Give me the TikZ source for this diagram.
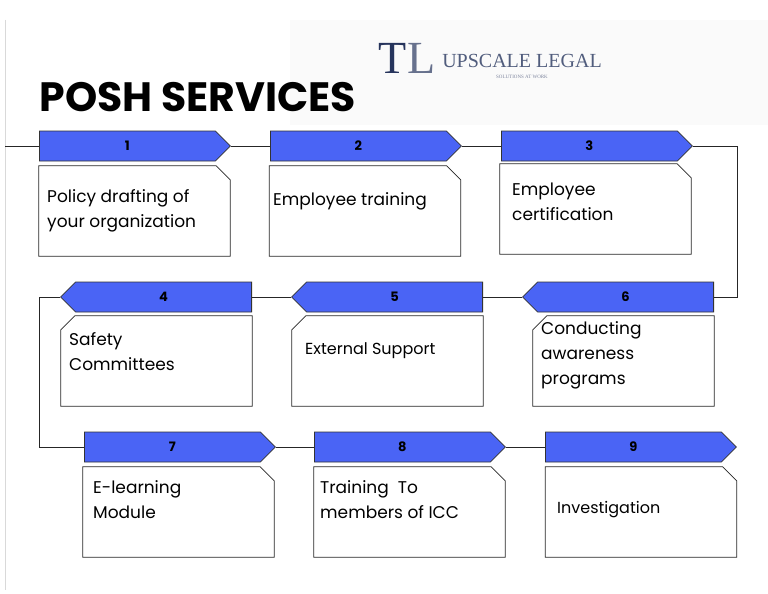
\documentclass[tikz,border=0pt]{standalone}
\usepackage{fontspec}
\setmainfont{Poppins}
\newfontfamily\logofont{Liberation Serif}
\usetikzlibrary{shapes.symbols}
\definecolor{bannerblue}{RGB}{74,100,245}
\definecolor{navy}{RGB}{38,52,92}
\tikzset{
  banner/.style={draw=black!80,thick,fill=bannerblue,shape=signal,signal pointer angle=90,
    minimum width=191pt,minimum height=30pt,inner sep=0pt,font=\fontsize{13}{13}\selectfont\bfseries},
  card/.style={rectangle,minimum width=191pt,minimum height=90pt,inner sep=0pt},
  edge/.style={draw=black!85,thick},
  txt/.style={anchor=west,align=left,inner sep=0pt,font=\fontsize{17}{25}\selectfont},
  link/.style={black!85,thick}
}
% card outline with the top right or top left corner cut
\newcommand\cutne[1]{\draw[edge] (#1.north west) -- ([xshift=-14pt]#1.north east)
  -- ([yshift=-14pt]#1.north east) -- (#1.south east) -- (#1.south west) -- cycle;}
\newcommand\cutnw[1]{\draw[edge] ([xshift=14pt]#1.north west) -- (#1.north east)
  -- (#1.south east) -- (#1.south west) -- ([yshift=-14pt]#1.north west) -- cycle;}
\begin{document}
\begin{tikzpicture}[x=1pt,y=-1pt]
  \useasboundingbox (0,0) rectangle (768,594);
  \fill[black!2] (290,20) rectangle (768,125);
  \draw[black!15] (5,20) -- (5,590);

  % logo
  \node[inner sep=0pt,text=navy,font=\logofont\fontsize{46}{46}\selectfont] (lgT) at (393,58) {T};
  \node[inner sep=0pt,text=navy!70,font=\logofont\fontsize{46}{46}\selectfont,anchor=west] (lgL) at (lgT.east) {L};
  \node[anchor=west,text=navy!80,font=\logofont\fontsize{20}{20}\selectfont] (lgname) at ([xshift=3pt,yshift=-3pt]lgL.east) {UPSCALE LEGAL};
  \node[anchor=north,text=navy!60,font=\logofont\fontsize{5}{5}\selectfont] (lgsub) at (lgname.south) {SOLUTIONS AT WORK};

  \node[anchor=west,font=\fontsize{41}{41}\selectfont\bfseries] (title) at (36,97) {POSH SERVICES};

  % banners
  \node[banner,signal to=east,anchor=west] (b1) at (39,146) {1};
  \node[banner,signal to=east,anchor=west] (b2) at (270,146) {2};
  \node[banner,signal to=east,anchor=west] (b3) at (501,146) {3};
  \node[banner,signal to=west,anchor=east] (b4) at (252,297) {4};
  \node[banner,signal to=west,anchor=east] (b5) at (483,297) {5};
  \node[banner,signal to=west,anchor=east] (b6) at (714,297) {6};
  \node[banner,signal to=east,anchor=west] (b7) at (84,447) {7};
  \node[banner,signal to=east,anchor=west] (b8) at (314,447) {8};
  \node[banner,signal to=east,anchor=west] (b9) at (545,447) {9};

  % cards
  \node[card] (c1) at (134.5,211) {};
  \node[card] (c2) at (365,211) {};
  \node[card] (c3) at (595.5,209) {};
  \node[card] (c4) at (156.5,361) {};
  \node[card] (c5) at (387.5,361) {};
  \node[card,minimum width=181pt] (c6) at (623.5,361) {};
  \node[card] (c7) at (178.5,512) {};
  \node[card] (c8) at (409.5,512) {};
  \node[card] (c9) at (641,512) {};
  \cutne{c1} \cutne{c2} \cutne{c3}
  \cutnw{c4} \cutnw{c5} \cutnw{c6}
  \cutne{c7} \cutne{c8} \cutne{c9}

  \node[txt] (t1) at (47,211) {Policy drafting of\\your organization};
  \node[txt] (t2) at (273,201) {Employee training};
  \node[txt] (t3) at (512,202) {Employee\\certification};
  \node[txt] (t4) at (69,352) {Safety\\Committees};
  \node[txt,font=\fontsize{16}{25}\selectfont] (t5) at (305,351) {External Support};
  \node[txt] (t6) at (541,355) {Conducting\\awareness\\programs};
  \node[txt] (t7) at (93,500) {E-learning\\Module};
  \node[txt] (t8) at (320,500) {Training\ \ To\\members of ICC};
  \node[txt,font=\fontsize{16}{25}\selectfont] (t9) at (557,510) {Investigation};

  % connectors
  \coordinate (k0) at (5,146);
  \coordinate (k1) at (737,146);
  \coordinate (k2) at (39,447);
  \draw[link] (k0) -- (b1.west) (b1.east) -- (b2.west) (b2.east) -- (b3.west);
  \draw[link] (b3.east) -- (k1) |- (b6.east);
  \draw[link] (b6.west) -- (b5.east) (b5.west) -- (b4.east);
  \draw[link] (b4.west) -| (k2) -- (b7.west);
  \draw[link] (b7.east) -- (b8.west) (b8.east) -- (b9.west);
\end{tikzpicture}
\end{document}
